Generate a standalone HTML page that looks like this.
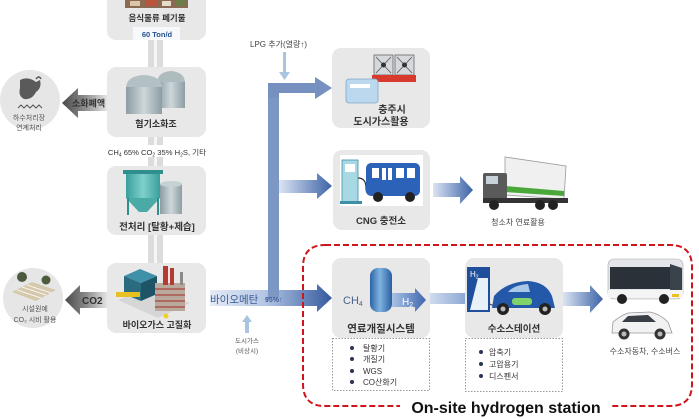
<!DOCTYPE html>
<html><head><meta charset="utf-8">
<style>
html,body{margin:0;padding:0;background:#fff;}
svg{display:block;}
text{font-family:"Liberation Sans","Noto Sans CJK KR",sans-serif;}
.lb{font-weight:bold;fill:#333;}
.sm{fill:#555;}
</style></head>
<body>
<svg width="699" height="419" viewBox="0 0 699 419" xmlns="http://www.w3.org/2000/svg">
<defs>
<linearGradient id="ga" x1="0" y1="0" x2="1" y2="0">
<stop offset="0" stop-color="#dbe4f3"/><stop offset="1" stop-color="#3d63a7"/></linearGradient>
<linearGradient id="gm" x1="0" y1="0" x2="1" y2="0">
<stop offset="0" stop-color="#e4ebf6"/><stop offset="0.45" stop-color="#b4c6e4"/><stop offset="1" stop-color="#34599f"/></linearGradient>
<linearGradient id="gl" x1="0" y1="0" x2="1" y2="0">
<stop offset="0" stop-color="#cfdbef"/><stop offset="1" stop-color="#8ea8d4"/></linearGradient>
<linearGradient id="gg" x1="0" y1="0" x2="1" y2="0">
<stop offset="0" stop-color="#4a4a4a"/><stop offset="0.5" stop-color="#8a8a8a"/><stop offset="1" stop-color="#e4e4e4"/></linearGradient>
<linearGradient id="tk" x1="0" y1="0" x2="1" y2="0">
<stop offset="0" stop-color="#8b9ca2"/><stop offset="0.5" stop-color="#cdd7da"/><stop offset="1" stop-color="#8d9ea3"/></linearGradient>
<linearGradient id="teal" x1="0" y1="0" x2="1" y2="0">
<stop offset="0" stop-color="#3a9f9b"/><stop offset="0.5" stop-color="#7fd0cb"/><stop offset="1" stop-color="#3a9f9b"/></linearGradient>
<linearGradient id="bt" x1="0" y1="0" x2="1" y2="0">
<stop offset="0" stop-color="#2c63a6"/><stop offset="0.45" stop-color="#7fb3e0"/><stop offset="1" stop-color="#2a5f9f"/></linearGradient>
<linearGradient id="h2a" x1="0" y1="0" x2="1" y2="0">
<stop offset="0" stop-color="#a9c2e6"/><stop offset="1" stop-color="#3f67ad"/></linearGradient>
</defs>

<!-- pipes -->
<rect x="148" y="38" width="15" height="232" fill="#dcdcdc"/>
<rect x="154" y="38" width="3" height="232" fill="#f6f6f6"/>

<!-- left column boxes -->
<rect x="107" y="-12" width="99" height="52" rx="9" fill="#e8e8e8"/>
<rect x="107" y="67" width="99" height="70" rx="9" fill="#e8e8e8"/>
<rect x="107" y="166" width="99" height="69" rx="9" fill="#e8e8e8"/>
<rect x="107" y="263" width="99" height="70" rx="9" fill="#e8e8e8"/>

<!-- food photo -->
<rect x="125" y="0" width="63" height="8" fill="#8a6a52"/>
<rect x="130" y="1" width="10" height="5" fill="#d9c7a8"/>
<rect x="146" y="0" width="12" height="6" fill="#b8553c"/>
<rect x="162" y="1" width="9" height="5" fill="#e6ddc8"/>
<rect x="175" y="0" width="10" height="6" fill="#6d7d48"/>
<text x="157" y="21" text-anchor="middle" class="lb" font-size="8.5">음식물류 폐기물</text>
<rect x="133" y="27" width="47" height="13" fill="#f7f8fb"/>
<text x="157" y="37" text-anchor="middle" font-size="7.5" font-weight="bold" fill="#24518f">60 Ton/d</text>

<!-- tanks -->
<rect x="157" y="82" width="28" height="26" fill="url(#tk)"/>
<path d="M157,82 Q158,72 171,71 Q184,72 185,82 Z" fill="#aebcc0"/>
<rect x="126" y="87" width="36" height="27" fill="url(#tk)"/>
<path d="M126,87 Q127,76 144,75 Q161,76 162,87 Z" fill="#b3c0c4"/>
<text x="156" y="127" text-anchor="middle" class="lb" font-size="9">혐기소화조</text>

<!-- CH4 line -->
<rect x="107" y="145" width="100" height="12" fill="#fff"/>
<text x="157" y="155" text-anchor="middle" font-size="7.6" fill="#333">CH<tspan font-size="5" dy="1.5">4</tspan><tspan dy="-1.5"> 65% CO</tspan><tspan font-size="5" dy="1.5">2</tspan><tspan dy="-1.5"> 35% H</tspan><tspan font-size="5" dy="1.5">2</tspan><tspan dy="-1.5">S, 기타</tspan></text>

<!-- pretreatment icon -->
<rect x="123" y="170" width="40" height="4" fill="#2e8f8c"/>
<rect x="126" y="174" width="34" height="24" fill="url(#teal)"/>
<polygon points="126,198 160,198 147,212 139,212" fill="#4aaaa6"/>
<line x1="128" y1="198" x2="128" y2="215" stroke="#2e8f8c" stroke-width="2"/>
<line x1="158" y1="198" x2="158" y2="215" stroke="#2e8f8c" stroke-width="2"/>
<rect x="160" y="184" width="22" height="30" fill="url(#tk)"/>
<ellipse cx="171" cy="184" rx="11" ry="3" fill="#c6d1d4"/>
<text x="157" y="230" text-anchor="middle" class="lb" font-size="9.5">전처리 [탈황+제습]</text>

<!-- upgrading icon -->
<polygon points="118,300 150,288 190,303 158,318" fill="#d6d6d6"/>
<polygon points="124,276 140,269 157,276 141,283" fill="#3f91a8"/>
<polygon points="124,276 141,283 141,301 124,294" fill="#2a6b80"/>
<polygon points="141,283 157,276 157,294 141,301" fill="#1f5466"/>
<rect x="155" y="283" width="30" height="28" fill="#b9a89c"/>
<g stroke="#a8463e" stroke-width="1.2">
<line x1="155" y1="289" x2="185" y2="289"/><line x1="155" y1="295" x2="185" y2="295"/><line x1="155" y1="301" x2="185" y2="301"/><line x1="155" y1="307" x2="185" y2="307"/>
</g>
<rect x="163" y="266" width="5" height="19" fill="#b43a32"/>
<rect x="170" y="268" width="4" height="17" fill="#b43a32"/>
<rect x="180" y="272" width="3" height="13" fill="#8a8a8a"/>
<rect x="116" y="292" width="24" height="5" fill="#e8c020"/>
<circle cx="166" cy="316" r="2.5" fill="#f0d020"/>
<text x="157" y="328" text-anchor="middle" class="lb" font-size="9">바이오가스 고질화</text>

<!-- left circles -->
<circle cx="30" cy="100" r="30" fill="#e6e6e6"/>
<path d="M20,80 Q28,76 36,82 L40,80 Q42,88 36,92 Q32,100 24,99 Q18,96 20,88 Z" fill="#5a5a5a"/>
<path d="M36,79 q3,-4 5,0" stroke="#5a5a5a" stroke-width="1.5" fill="none"/>
<path d="M18,108 l3,-3 l3,3 l3,-3 l3,3 l3,-3 l3,3 l3,-3 l3,3" stroke="#555" stroke-width="1" fill="none"/>
<text x="29" y="120" text-anchor="middle" class="sm" font-size="7">하수처리장</text>
<text x="29" y="130" text-anchor="middle" class="sm" font-size="7">연계처리</text>

<circle cx="33" cy="298" r="30" fill="#e6e6e6"/>
<polygon points="12,292 32,282 56,290 36,301" fill="#d5c9ad"/>
<g stroke="#fff" stroke-width="0.8"><line x1="17" y1="290" x2="41" y2="298"/><line x1="22" y1="287" x2="46" y2="295"/><line x1="27" y1="285" x2="51" y2="293"/></g>
<circle cx="22" cy="277" r="5" fill="#4d5a3e"/>
<circle cx="46" cy="280" r="4.5" fill="#4d5a3e"/>
<text x="35" y="311" text-anchor="middle" class="sm" font-size="7">시설원예</text>
<text x="35" y="322" text-anchor="middle" class="sm" font-size="7">CO₂ 시비 활용</text>

<!-- grey left arrows -->
<polygon points="107,95 78,95 78,88 62,103 78,118 78,111 107,111" fill="url(#gg)"/>
<text x="72" y="106.5" class="lb" font-size="9">소화폐액</text>
<polygon points="107,292 80,292 80,285 65,300 80,315 80,308 107,308" fill="url(#gg)"/>
<text x="82" y="304" class="lb" font-size="10">CO2</text>

<!-- blue trunk and arrows -->
<polygon points="210,290 317,290 317,284 332,298 317,312 317,306 210,306" fill="url(#gm)"/>
<rect x="268" y="83" width="11" height="215" fill="#7d97c5"/>
<polygon points="268,83 315,83 315,77 332,88 315,99 315,93 279,93 279,98 268,98" fill="#7690c0"/>
<polygon points="279,180 317,180 317,173 332,186 317,199 317,193 279,193" fill="url(#ga)"/>
<text x="210" y="303" font-size="10.5" fill="#3b5b98">바이오메탄</text>
<text x="265" y="302" font-size="7" font-weight="bold" fill="#3b5b98">95%↑</text>

<!-- LPG -->
<text x="250" y="47" font-size="8" fill="#444">LPG 추가(열량↑)</text>
<rect x="283" y="52" width="3" height="22" fill="#a9c4e0"/>
<polygon points="279,72 290,72 284.5,80" fill="#a9c4e0"/>

<!-- city gas emergency -->
<polygon points="247,315 252,322 249,322 249,333 245,333 245,322 242,322" fill="#a9c4e0"/>
<text x="247" y="343" text-anchor="middle" class="sm" font-size="6.5">도시가스</text>
<text x="247" y="353" text-anchor="middle" class="sm" font-size="6.5">(비상시)</text>

<!-- 충주시 box -->
<rect x="332" y="48" width="98" height="80" rx="9" fill="#e8e8e8"/>
<rect x="374" y="55" width="19" height="20" fill="#d5d8dc" stroke="#666" stroke-width="0.8"/>
<rect x="395" y="55" width="19" height="20" fill="#d5d8dc" stroke="#666" stroke-width="0.8"/>
<g stroke="#555" stroke-width="0.8"><line x1="376" y1="57" x2="391" y2="73"/><line x1="391" y1="57" x2="376" y2="73"/><line x1="397" y1="57" x2="412" y2="73"/><line x1="412" y1="57" x2="397" y2="73"/></g>
<circle cx="383.5" cy="65" r="2.5" fill="#333"/><circle cx="404.5" cy="65" r="2.5" fill="#333"/>
<rect x="372" y="75" width="44" height="7" fill="#d83a2e"/>
<rect x="346" y="79" width="32" height="24" rx="3" fill="#bcd8ef" stroke="#7ea6c9" stroke-width="0.8"/>
<rect x="350" y="84" width="20" height="4" fill="#fff"/>
<text x="392" y="113" text-anchor="middle" class="lb" font-size="10">충주시</text>
<text x="381" y="125" text-anchor="middle" class="lb" font-size="10">도시가스활용</text>

<!-- CNG box -->
<rect x="333" y="150" width="97" height="80" rx="9" fill="#e8e8e8"/>
<rect x="340" y="155" width="83" height="51" fill="#fff"/>
<rect x="342" y="160" width="16" height="42" fill="#a8d8e3" stroke="#3d8fa8" stroke-width="0.8"/>
<rect x="345" y="164" width="10" height="8" fill="#fff"/>
<rect x="340" y="201" width="22" height="3" fill="#3d8fa8"/>
<path d="M358,178 q8,0 8,10 q0,6 4,6" stroke="#333" stroke-width="1.2" fill="none"/>
<rect x="366" y="163" width="54" height="33" rx="5" fill="#2c63b8"/>
<g fill="#fff"><rect x="372" y="168" width="7" height="10"/><rect x="382" y="168" width="4" height="12"/><rect x="388" y="168" width="4" height="12"/><rect x="396" y="168" width="8" height="10"/><rect x="407" y="168" width="8" height="10"/></g>
<circle cx="378" cy="197" r="5" fill="#222"/><circle cx="410" cy="197" r="5" fill="#222"/>
<text x="381" y="224" text-anchor="middle" class="lb" font-size="9.5">CNG 충전소</text>

<!-- arrow to truck -->
<polygon points="433,183 460,183 460,176 473,190 460,204 460,197 433,197" fill="url(#ga)"/>
<!-- truck -->
<polygon points="505,157 566,166 564,199 505,195" fill="#f0f0f0" stroke="#9a9a9a" stroke-width="0.8"/>
<polygon points="505,186 564,191 564,196 505,192" fill="#4aa83a"/>
<rect x="483" y="173" width="24" height="26" rx="2" fill="#5a5a5a"/>
<rect x="486" y="176" width="12" height="8" fill="#c9d2d8"/>
<rect x="483" y="198" width="85" height="5" fill="#333"/>
<circle cx="494" cy="205" r="5" fill="#222"/><circle cx="540" cy="205" r="5" fill="#222"/><circle cx="553" cy="205" r="5" fill="#222"/>
<text x="518" y="225" text-anchor="middle" fill="#444" font-size="8">청소차 연료활용</text>

<!-- dashed region -->
<path d="M325,245 L670,245 Q692,245 692,267 L692,384 Q692,406 670,406 L325,406 Q303,406 303,384 L303,267 Q303,245 325,245 Z" fill="none" stroke="#d0141b" stroke-width="2" stroke-dasharray="6 3"/>
<rect x="400" y="397" width="212" height="20" fill="#fff"/>
<text x="506" y="413" text-anchor="middle" font-size="16" font-weight="bold" fill="#111">On-site hydrogen station</text>

<!-- reformer box -->
<rect x="332" y="258" width="98" height="80" rx="9" fill="#e8e8e8"/>
<rect x="332.5" y="338.5" width="97" height="52" fill="#fff" stroke="#999" stroke-width="1" stroke-dasharray="1.5 1.5"/>
<text x="343" y="304" font-size="11" fill="#4a648e">CH<tspan font-size="7" dy="2">4</tspan></text>
<polygon points="392,293 415,293 415,288 426,300 415,312 415,307 392,307" fill="url(#h2a)"/>
<text x="402" y="305" font-size="10" fill="#fff">H<tspan font-size="7" dy="2">2</tspan></text>
<rect x="370" y="268" width="22" height="44" rx="8" fill="url(#bt)"/>
<text x="381" y="332" text-anchor="middle" class="lb" font-size="10.5">연료개질시스템</text>
<g fill="#2a3550"><circle cx="352" cy="348" r="2"/><circle cx="352" cy="359" r="2"/><circle cx="352" cy="371" r="2"/><circle cx="352" cy="382" r="2"/></g>
<g font-size="8" fill="#333"><text x="363" y="351">탈황기</text><text x="363" y="362">개질기</text><text x="363" y="374">WGS</text><text x="363" y="385">CO산화기</text></g>

<!-- arrow between -->
<rect x="430" y="293" width="35" height="11" fill="url(#gl)"/>

<!-- station box -->
<rect x="465" y="258" width="98" height="80" rx="9" fill="#e8e8e8"/>
<rect x="465.5" y="338.5" width="97" height="53" fill="#fff" stroke="#999" stroke-width="1" stroke-dasharray="1.5 1.5"/>
<rect x="467" y="267" width="23" height="45" fill="#1f4f9c"/>
<polygon points="478,278 488,278 488,310 470,310" fill="#e8f0f8"/>
<text x="470" y="277" font-size="8" fill="#fff">H<tspan font-size="5" dy="1.5">2</tspan></text>
<path d="M490,304 q6,4 12,0" stroke="#222" stroke-width="1" fill="none"/>
<path d="M492,308 L494,296 Q506,282 528,281 Q546,282 552,296 L555,308 Z" fill="#2458a8"/>
<path d="M508,292 Q514,285 528,284 L530,292 Z" fill="#a9c8e8"/>
<rect x="512" y="298" width="20" height="7" rx="3" fill="#7fd36a"/>
<circle cx="503" cy="309" r="6" fill="#222"/><circle cx="545" cy="309" r="6" fill="#222"/>
<circle cx="503" cy="309" r="2.5" fill="#bbb"/><circle cx="545" cy="309" r="2.5" fill="#bbb"/>
<text x="514" y="332" text-anchor="middle" class="lb" font-size="9.5">수소스테이션</text>
<g fill="#2a3550"><circle cx="481" cy="352" r="2"/><circle cx="481" cy="364" r="2"/><circle cx="481" cy="376" r="2"/></g>
<g font-size="8" fill="#333"><text x="489" y="355">압축기</text><text x="489" y="367">고압용기</text><text x="489" y="379">디스펜서</text></g>

<!-- arrow to vehicles -->
<polygon points="563,292 590,292 590,285 603,299 590,313 590,306 563,306" fill="url(#ga)"/>

<!-- bus -->
<rect x="608" y="259" width="75" height="40" rx="6" fill="#e3e5e8" stroke="#aaa" stroke-width="0.6"/>
<rect x="610" y="267" width="60" height="22" fill="#2b3138"/>
<path d="M670,264 L682,268 L682,292 L670,292 Z" fill="#3a424c"/>
<rect x="608" y="290" width="75" height="8" fill="#f4f4f4"/>
<rect x="672" y="294" width="7" height="3" fill="#e8c020"/>
<circle cx="622" cy="299" r="5" fill="#222"/><circle cx="664" cy="299" r="5" fill="#222"/>
<!-- SUV -->
<path d="M612,333 L613,322 Q620,316 628,313 L650,312 Q660,314 668,322 L672,333 Z" fill="#f2f2f2" stroke="#999" stroke-width="0.8"/>
<path d="M628,316 L648,315 L656,322 L622,322 Z" fill="#3a3f46"/>
<circle cx="624" cy="334" r="5.5" fill="#333"/><circle cx="660" cy="334" r="5.5" fill="#333"/>
<circle cx="624" cy="334" r="2.5" fill="#bbb"/><circle cx="660" cy="334" r="2.5" fill="#bbb"/>
<text x="645" y="354" text-anchor="middle" fill="#444" font-size="8">수소자동차, 수소버스</text>
</svg>
</body></html>
